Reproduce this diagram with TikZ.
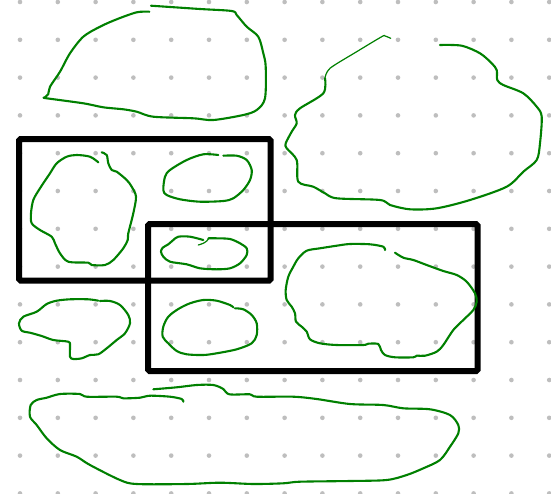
\documentclass[tikz,border=0pt]{standalone}
\begin{document}
\begin{tikzpicture}[x=1pt,y=-1pt,
  ink/.style={draw=inkgreen,line width=2.1pt,line cap=round,line join=round},
  thinink/.style={draw=inkgreen,line width=1.2pt,line cap=round,line join=round},
  frame/.style={draw=black,line width=6pt,rounded corners=1.5pt}]
\definecolor{inkgreen}{RGB}{0,128,0}
\definecolor{dotgray}{RGB}{190,190,190}
\useasboundingbox (0,0) rectangle (551,493);
\fill[white] (0,0) rectangle (551,493);
% dot grid
\foreach \i in {0,...,14}{
  \foreach \j in {0,...,13}{
    \fill[dotgray] ({20+37.8*\i},{2+37.8*\j}) circle (2.3);
  }
}
% frames
\draw[frame] (19,139) rectangle (270.5,280.5);
\draw[frame] (148,224) rectangle (477.5,371);
% blob A (top left)
\draw[ink] plot[smooth,tension=0.5] coordinates {(151,5.7) (200,9) (231.7,11) (236.7,15) (246.7,26.7) (258.3,36.7) (263.3,53.3) (265.7,66.7) (265,98.3) (256.7,110) (243.3,115) (213.3,120) (193.3,118.3) (153.3,116.7) (136.7,111.7) (123.3,109.3) (103.3,107.3) (83.3,103.3) (46.7,98.3) (44.3,97.7)};
\draw[ink] plot[smooth,tension=0.5] coordinates {(44.3,97.7) (48.3,94) (50,86.7) (60,71.7) (70,53.3) (83.3,36.7) (100,26.7) (116.7,19.3) (136.7,12.3) (149.3,11.7)};
% blob B (top right)
\draw[ink] plot[smooth,tension=0.5] coordinates {(440,45) (461.7,45.7) (480,53.3) (491.7,63.3) (496.7,70) (497.3,80) (503.3,85) (523.3,93.3) (536.7,106.7) (541.7,116.7) (540,143.3) (536.7,160) (523.3,171.7) (506.7,186.7) (470,200) (436.7,208.3) (410,209.3) (390,205) (380,200) (336.7,198.3) (325,193.3) (313.3,186.7) (298.3,181.7) (296.7,160) (286.7,148.3) (285.7,143.3) (291.7,131.7) (296.7,123.3) (295,115) (300,108.3) (323.3,93.3) (325,78.3)};
\draw[thinink] plot[smooth,tension=0.5] coordinates {(325,78.3) (330,68.3) (356.7,51.7) (381.7,36.7) (385,36) (390.7,38.3)};
% blob C (rect1 left)
\draw[ink] plot[smooth,tension=0.5] coordinates {(98.3,162.3) (90,156.7) (76.7,155) (66.7,156.7) (56.7,163.3) (50,173.3) (40,188.3) (33.3,200) (31,213.3) (31.7,223.3) (40,230) (51.7,236.7) (55,243.3) (60,253.3) (68.3,261.7) (88.3,262.7) (91.7,265) (105,265) (113.3,260) (123.3,248.3) (127.7,240) (128.3,233.3) (133.3,213.3) (136,196.7) (131.7,186.7) (126.7,180) (116.7,171.7) (111.7,170) (108.3,163.3) (106.7,155) (101.7,152.3)};
% blob D (rect1 right)
\draw[ink] plot[smooth,tension=0.5] coordinates {(218.3,155) (203.3,154.3) (186.7,160) (170,170) (165,176.7) (163.3,190) (166.7,195) (180,199.3) (200,201.7) (223.3,201) (233.3,198.3) (243.3,190) (250,180) (251.7,170) (246.7,160) (236.7,155.7) (223.3,155.7)};
% blob E (overlap small)
\draw[ink] plot[smooth,tension=0.5] coordinates {(203.3,240) (190,236.7) (178.3,236.7) (173.3,240) (168.3,244.3) (162.7,247.7) (161,251.7) (163.3,256.7) (170,261.7) (186.7,264.3) (200,268.3) (216.7,269.3) (230,268.3) (240,263.3) (246.7,255) (246.7,248.3) (240,243.3) (230,239) (216.7,238.3) (208.3,238.3)};
\draw[thinink] plot[smooth,tension=0.5] coordinates {(198.3,245) (203.3,243.3) (206.7,241) (208.3,239)};
% blob F (left middle)
\draw[ink] plot[smooth,tension=0.5] coordinates {(98.3,300.7) (88.3,299.3) (70,299.3) (56.7,300.7) (46.7,304) (36.7,311.7) (23.3,316.7) (19,323.3) (21.7,330.7) (30,332.7) (41.7,336) (53.3,340) (68.3,341.7) (70,345) (70,356.7) (73.3,359) (81.7,358.3) (90,355) (98.3,354.3) (106.7,348.3) (116.7,340) (125,333.3) (130,323.3) (128.3,315) (120,305) (110,301) (100,301)};
% blob G (rect2 lower left)
\draw[ink] plot[smooth,tension=0.5] coordinates {(233.3,307.3) (230,305) (216.7,300.7) (203.3,300) (190,303.3) (178.3,309) (168.3,316.7) (163.3,326.7) (162.7,336.7) (168.3,343.3) (176.7,351) (186.7,354.3) (203.3,355) (216.7,353.3) (236.7,349.3) (251.7,343.3) (256.7,335) (256.7,323.3) (251.7,315) (243.3,309.3) (235,308.3)};
% blob H (rect2 right)
\draw[ink] plot[smooth,tension=0.5] coordinates {(385,250) (383.3,246.7) (370,244.3) (350,244) (336.7,245.7) (320,248.3) (306.7,250.7) (298.3,258.3) (293.3,266.7) (288.3,276.7) (285.7,290) (286.7,300) (291.7,306.7) (295,313.3) (296,321.7) (301.7,326.7) (306.7,331.7) (310,339.3) (320,343.3) (336.7,345) (363.3,345) (368.3,343.7) (378.3,344) (381,350) (385,355) (395,357.3) (413.3,357.3) (416.7,355.7) (425,355.7) (436.7,351.7) (443.3,345) (453.3,330) (463.3,320) (473.3,310) (476.7,301.7) (475,293.3) (466.7,281.7) (456.7,275) (443.3,271) (426.7,265) (413.3,260) (403.3,257.7) (395,252.7)};
% blob I (bottom)
\draw[ink] plot[smooth,tension=0.5] coordinates {(183.3,401.7) (181.7,399) (170,396.7) (150,395.7) (140,397.7) (123.3,398.3) (116.7,396.7) (86.7,396.7) (80,394) (60,394) (46.7,397.7) (36.7,400) (30.7,405) (30,416.7) (36.7,425) (46.7,438.3) (60,450) (76.7,456.7) (90,465) (120,480) (136.7,484) (186.7,484) (220,482.7) (253.3,484) (283.3,483.3) (300,481.7) (350,481) (386.7,480) (406.7,475) (423.3,468.3) (440,460) (450,446.7) (458.3,433.3) (458.3,425) (450,415) (430,409.3) (403.3,408.3) (383.3,405) (350,404) (316.7,399) (293.3,396.7) (256.7,396.7) (250,394.3) (229.3,394.3) (223.3,389) (213.3,385) (196.7,385) (176.7,387.3) (153.3,389.3)};
\end{tikzpicture}
\end{document}
